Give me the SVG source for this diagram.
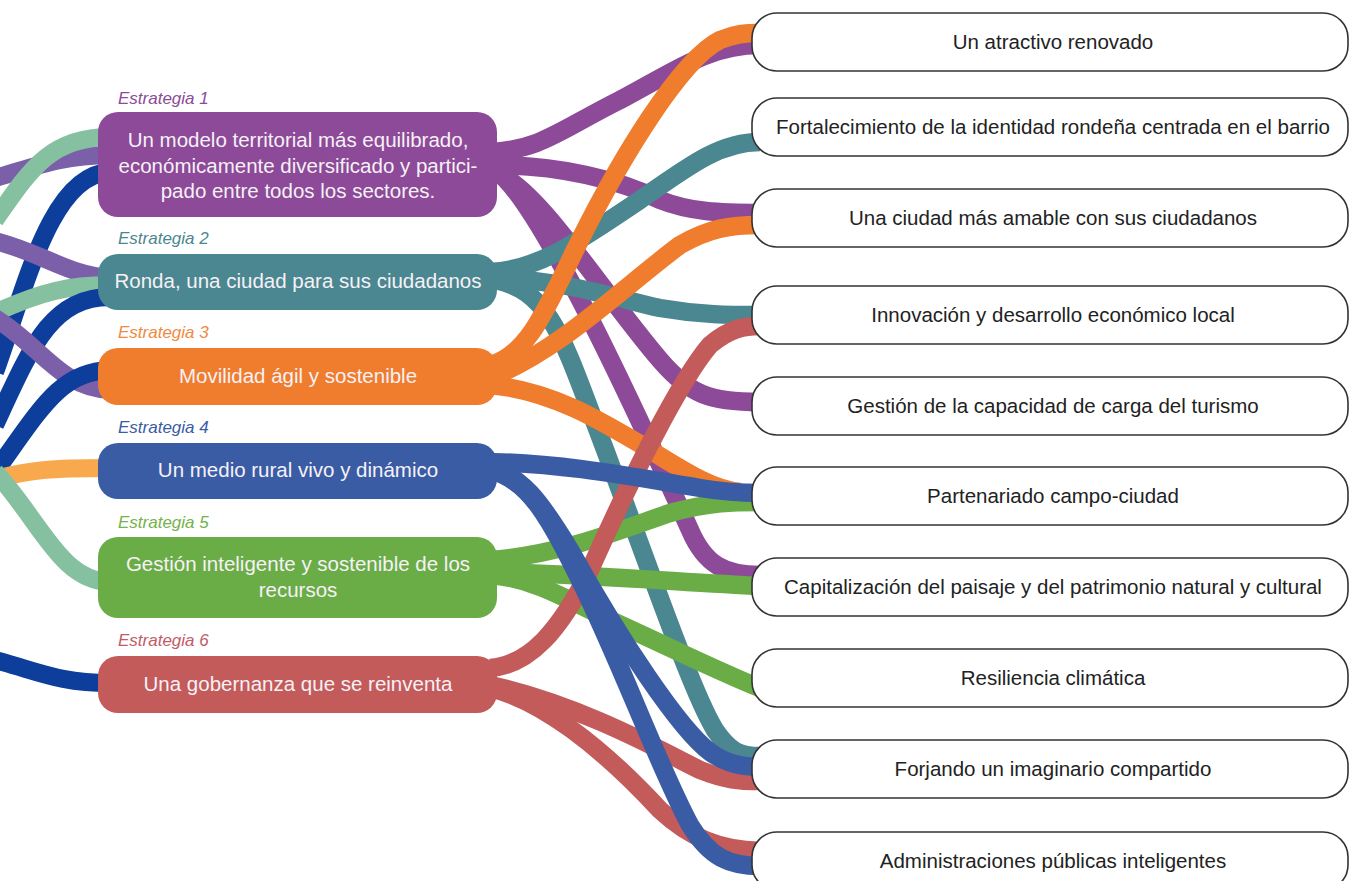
<svg xmlns="http://www.w3.org/2000/svg" width="1350" height="881" viewBox="0 0 1350 881">
<style>
.c{fill:none;stroke-width:18.5;stroke-linecap:butt}
.l{fill:none;stroke-width:18;stroke-linecap:butt}
.sb{stroke:none}
.st{font-family:"Liberation Sans",Arial,sans-serif;font-size:20.5px;fill:#f6f1f6;text-anchor:middle}
.lab{font-family:"Liberation Sans",Arial,sans-serif;font-size:17px;font-style:italic}
.tb{fill:#ffffff;stroke:#333333;stroke-width:1.6}
.tt{font-family:"Liberation Sans",Arial,sans-serif;font-size:20.5px;fill:#222222;text-anchor:middle}
.pu{stroke:#8c4a98}.te{stroke:#4b8790}.or{stroke:#ef7d2d}.bl{stroke:#3a5ca5}.gr{stroke:#6aad46}.re{stroke:#c35b5b}
.lp{stroke:#7b5fa9}.lg{stroke:#85c0a0}.ln{stroke:#0d3e9b}.lo{stroke:#f8a94e}
</style>
<g id="connectors">
<path class="l lp" d="M -5 178 C 40 165, 60 156, 110 155"/>
<path class="l lg" d="M -5 220 C 30 170, 50 137, 110 137"/>
<path class="l ln" d="M -5 372 C 25 290, 50 174, 110 172"/>
<path class="l lp" d="M -5 241 C 40 252, 70 276, 110 278"/>
<path class="l lg" d="M -5 313 C 40 292, 70 285, 110 285"/>
<path class="l ln" d="M -5 425 C 30 350, 50 297, 110 297"/>
<path class="l lp" d="M -5 318 C 40 345, 60 388, 110 390"/>
<path class="l ln" d="M -5 472 C 40 410, 60 371, 110 370"/>
<path class="l lo" d="M -5 479 C 30 470, 50 468, 110 468"/>
<path class="l lg" d="M -5 472 C 40 520, 60 581, 110 582"/>
<path class="l ln" d="M -5 660 C 40 672, 60 683, 110 683"/>
<path class="c pu" d="M 490 152 C 540 150, 560 130, 620 100 C 680 68, 710 45, 760 45"/>
<path class="c pu" d="M 490 165 C 560 165, 620 180, 660 200 C 690 212, 720 213, 760 213"/>
<path class="c pu" d="M 495 172 C 540 190, 600 290, 660 360 C 690 395, 710 402, 760 402"/>
<path class="c pu" d="M 495 170 C 540 200, 640 420, 690 530 C 705 565, 725 575, 760 575"/>
<path class="c te" d="M 490 272 C 540 270, 580 240, 640 200 C 690 165, 720 142, 760 142"/>
<path class="c te" d="M 490 278 C 570 280, 620 300, 660 308 C 700 315, 730 315, 760 315"/>
<path class="c te" d="M 495 280 C 545 290, 560 330, 590 410 C 640 540, 690 690, 715 730 C 730 752, 740 756, 760 756"/>
<path class="c or" d="M 490 365 C 530 355, 550 300, 580 240 C 620 160, 680 60, 720 40 C 735 34, 745 33, 760 33"/>
<path class="c or" d="M 490 378 C 560 350, 620 290, 680 245 C 710 228, 730 225, 760 225"/>
<path class="c or" d="M 490 385 C 550 390, 600 420, 650 450 C 690 475, 715 490, 740 492"/>
<path class="c gr" d="M 490 560 C 560 555, 620 530, 670 513 C 710 502, 735 502, 760 502"/>
<path class="c gr" d="M 490 572 C 580 574, 680 582, 760 586"/>
<path class="c gr" d="M 490 575 C 530 578, 560 595, 610 620 C 680 652, 720 672, 760 688"/>
<path class="c re" d="M 490 668 C 530 665, 560 630, 590 570 C 630 480, 680 380, 710 345 C 730 328, 745 326, 760 326"/>
<path class="c re" d="M 490 685 C 580 705, 660 750, 700 770 C 725 780, 740 781, 760 781"/>
<path class="c re" d="M 490 688 C 540 700, 600 745, 660 810 C 690 838, 720 850, 760 851"/>
<path class="c bl" d="M 480 462 C 560 462, 640 478, 700 488 C 730 493, 745 493, 760 493"/>
<path class="c bl" d="M 490 468 C 520 475, 540 500, 570 550 C 620 640, 680 730, 710 752 C 725 763, 740 767, 760 767"/>
<path class="c bl" d="M 490 470 C 530 480, 550 520, 580 580 C 620 660, 660 770, 690 825 C 710 858, 730 866, 760 866"/>
</g>
<g id="s1">
<text class="lab" x="118" y="104" fill="#8c4a98">Estrategia 1</text>
<rect class="sb" x="98" y="112" width="399" height="105" rx="20" fill="#8c4a98"/>
<text class="st" x="298" y="147">Un modelo territorial más equilibrado,</text>
<text class="st" x="298" y="172.5">económicamente diversificado y partici-</text>
<text class="st" x="298" y="198">pado entre todos los sectores.</text>
</g>
<g id="s2">
<text class="lab" x="118" y="244" fill="#4b8790">Estrategia 2</text>
<rect class="sb" x="98" y="254" width="399" height="56" rx="20" fill="#4b8790"/>
<text class="st" x="298" y="288">Ronda, una ciudad para sus ciudadanos</text>
</g>
<g id="s3">
<text class="lab" x="118" y="338" fill="#f08a40">Estrategia 3</text>
<rect class="sb" x="98" y="348" width="399" height="57" rx="20" fill="#ef7d2d"/>
<text class="st" x="298" y="383">Movilidad ágil y sostenible</text>
</g>
<g id="s4">
<text class="lab" x="118" y="433" fill="#3a5ca5">Estrategia 4</text>
<rect class="sb" x="98" y="443" width="399" height="56" rx="20" fill="#3a5ca5"/>
<text class="st" x="298" y="477">Un medio rural vivo y dinámico</text>
</g>
<g id="s5">
<text class="lab" x="118" y="528" fill="#74b24c">Estrategia 5</text>
<rect class="sb" x="98" y="537" width="399" height="81" rx="20" fill="#6aad46"/>
<text class="st" x="298" y="571">Gestión inteligente y sostenible de los</text>
<text class="st" x="298" y="597">recursos</text>
</g>
<g id="s6">
<text class="lab" x="118" y="646" fill="#c35b67">Estrategia 6</text>
<rect class="sb" x="98" y="656" width="399" height="57" rx="20" fill="#c35b5b"/>
<text class="st" x="298" y="691">Una gobernanza que se reinventa</text>
</g>
<g id="t1"><rect class="tb" x="752" y="13" width="596" height="58" rx="25"/><text class="tt" x="1053" y="49">Un atractivo renovado</text></g>
<g id="t2"><rect class="tb" x="752" y="98" width="596" height="58" rx="25"/><text class="tt" x="1053" y="134">Fortalecimiento de la identidad rondeña centrada en el barrio</text></g>
<g id="t3"><rect class="tb" x="752" y="189" width="596" height="58" rx="25"/><text class="tt" x="1053" y="225">Una ciudad más amable con sus ciudadanos</text></g>
<g id="t4"><rect class="tb" x="752" y="286" width="596" height="58" rx="25"/><text class="tt" x="1053" y="322">Innovación y desarrollo económico local</text></g>
<g id="t5"><rect class="tb" x="752" y="377" width="596" height="58" rx="25"/><text class="tt" x="1053" y="413">Gestión de la capacidad de carga del turismo</text></g>
<g id="t6"><rect class="tb" x="752" y="467" width="596" height="58" rx="25"/><text class="tt" x="1053" y="503">Partenariado campo-ciudad</text></g>
<g id="t7"><rect class="tb" x="752" y="558" width="596" height="58" rx="25"/><text class="tt" x="1053" y="594">Capitalización del paisaje y del patrimonio natural y cultural</text></g>
<g id="t8"><rect class="tb" x="752" y="649" width="596" height="58" rx="25"/><text class="tt" x="1053" y="685">Resiliencia climática</text></g>
<g id="t9"><rect class="tb" x="752" y="740" width="596" height="58" rx="25"/><text class="tt" x="1053" y="776">Forjando un imaginario compartido</text></g>
<g id="t10"><rect class="tb" x="752" y="832" width="596" height="58" rx="25"/><text class="tt" x="1053" y="868">Administraciones públicas inteligentes</text></g>
</svg>
